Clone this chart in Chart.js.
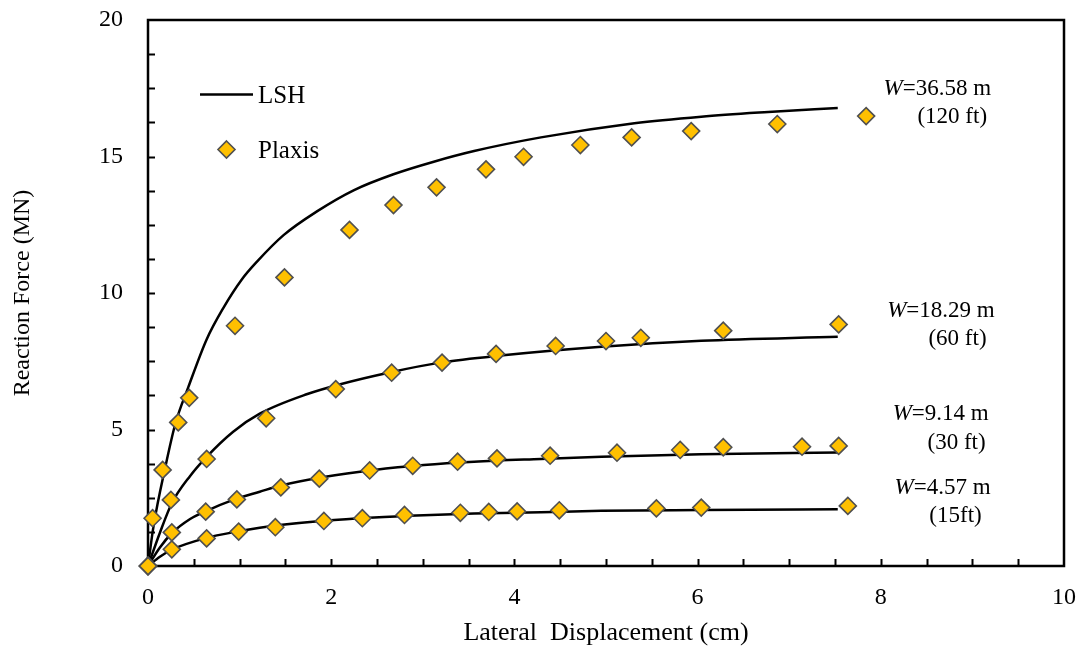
<!DOCTYPE html>
<html>
<head>
<meta charset="utf-8">
<script src="https://cdn.jsdelivr.net/npm/chart.js@4/dist/chart.umd.min.js"></script>
<style>
  html, body { margin: 0; padding: 0; background: #fff; }
  #wrap { width: 1083px; height: 653px; }
</style>
</head>
<body>
<div id="wrap"><canvas id="chart" width="1083" height="653"></canvas></div>
<script>
// Plaxis results (diamonds), x = lateral displacement (cm), y = reaction force (MN)
const plaxis36X = [0, 0.05, 0.16, 0.33, 0.45, 0.95, 1.49, 2.20, 2.68, 3.15, 3.69, 4.10, 4.72, 5.28, 5.93, 6.87, 7.84];
const plaxis36Y = [0, 1.75, 3.52, 5.26, 6.16, 8.80, 10.57, 12.31, 13.22, 13.87, 14.53, 14.99, 15.42, 15.70, 15.93, 16.19, 16.48];
const plaxis18X = [0, 0.25, 0.64, 1.29, 2.05, 2.66, 3.21, 3.80, 4.45, 5.00, 5.38, 6.28, 7.54];
const plaxis18Y = [0, 2.42, 3.92, 5.41, 6.48, 7.08, 7.45, 7.77, 8.06, 8.24, 8.36, 8.62, 8.85];
const plaxis9X = [0, 0.26, 0.63, 0.97, 1.45, 1.87, 2.42, 2.89, 3.38, 3.81, 4.39, 5.12, 5.81, 6.28, 7.14, 7.54];
const plaxis9Y = [0, 1.23, 1.99, 2.44, 2.88, 3.20, 3.50, 3.67, 3.82, 3.94, 4.04, 4.15, 4.25, 4.35, 4.37, 4.40];
const plaxis4X = [0, 0.26, 0.64, 0.99, 1.39, 1.92, 2.34, 2.80, 3.41, 3.72, 4.03, 4.49, 5.55, 6.04, 7.64];
const plaxis4Y = [0, 0.61, 1.01, 1.26, 1.42, 1.65, 1.75, 1.87, 1.95, 1.98, 2.00, 2.04, 2.11, 2.14, 2.20];

// LSH curves
const lsh36X = [0, 0.06, 0.19, 0.30, 0.44, 0.64, 0.82, 1.02, 1.19, 1.48, 1.84, 2.25, 2.68, 3.12, 3.56, 4.29, 5.31, 6.04, 6.77, 7.53];
const lsh36Y = [0, 1.45, 3.64, 5.23, 6.55, 8.30, 9.44, 10.48, 11.15, 12.12, 12.98, 13.77, 14.35, 14.81, 15.20, 15.70, 16.22, 16.46, 16.63, 16.78];
const lsh18X = [0, 0.13, 0.26, 0.46, 0.64, 0.93, 1.22, 1.74, 2.10, 2.65, 3.19, 3.85, 4.95, 6.04, 7.53];
const lsh18Y = [0, 1.22, 2.30, 3.30, 4.00, 4.92, 5.58, 6.30, 6.66, 7.10, 7.45, 7.71, 8.03, 8.25, 8.40];
const lsh9X = [0, 0.13, 0.26, 0.46, 0.64, 0.93, 1.22, 1.44, 1.92, 2.47, 3.01, 3.56, 4.29, 4.95, 6.04, 7.53];
const lsh9Y = [0, 0.68, 1.20, 1.72, 2.02, 2.42, 2.72, 2.94, 3.26, 3.52, 3.70, 3.82, 3.92, 4.00, 4.09, 4.16];
const lsh4X = [0, 0.13, 0.26, 0.64, 0.97, 1.22, 1.44, 1.92, 2.47, 3.01, 3.56, 4.29, 4.95, 6.04, 7.53];
const lsh4Y = [0, 0.34, 0.60, 1.03, 1.26, 1.40, 1.50, 1.66, 1.78, 1.86, 1.92, 1.97, 2.02, 2.05, 2.08];

// curve labels
const widthLabels = ['36.58 m', '18.29 m', '9.14 m', '4.57 m'];
const feetLabels = ['(120 ft)', '(60 ft)', '(30 ft)', '(15ft)'];

const FONT = "'Liberation Serif', 'Times New Roman', serif";
const YELLOW = '#FFC000';
const EDGE = '#505050';

function pts(xs, ys) {
    return xs.map((x, i) => ({ x: x, y: ys[i] }));
}

function lineSet(xs, ys) {
    return {
        label: 'LSH',
        data: pts(xs, ys),
        showLine: true,
        borderColor: '#000',
        borderWidth: 2.5,
        pointRadius: 0,
        cubicInterpolationMode: 'monotone',
        clip: false,
        order: 2
    };
}

function markerSet(xs, ys) {
    return {
        label: 'Plaxis',
        data: pts(xs, ys),
        showLine: false,
        pointStyle: 'rectRot',
        pointRadius: 8.5,
        backgroundColor: YELLOW,
        borderColor: EDGE,
        borderWidth: 1.6,
        clip: false,
        order: 1
    };
}

// label anchors in data units (left edge / middle of text)
const labelPos = [
    { x1: 8.03, y1: 17.47, x2: 8.40, y2: 16.46 },
    { x1: 8.07, y1: 9.35, x2: 8.52, y2: 8.30 },
    { x1: 8.13, y1: 5.56, x2: 8.51, y2: 4.52 },
    { x1: 8.15, y1: 2.87, x2: 8.53, y2: 1.83 }
];

const framePlugin = {
    id: 'frame',
    beforeDatasetsDraw(chart) {
        const { ctx, chartArea: a, scales } = chart;
        ctx.save();
        ctx.strokeStyle = '#000';
        ctx.lineWidth = 2.5;
        ctx.strokeRect(a.left, a.top, a.right - a.left, a.bottom - a.top);
        // inside minor ticks
        ctx.lineWidth = 2;
        ctx.beginPath();
        for (let v = 0.5; v < 10; v += 0.5) {
            const px = Math.round(scales.x.getPixelForValue(v)) + 0.5;
            ctx.moveTo(px, a.bottom);
            ctx.lineTo(px, a.bottom - 7);
        }
        for (let v = 1.25; v < 20; v += 1.25) {
            const py = Math.round(scales.y.getPixelForValue(v)) + 0.5;
            ctx.moveTo(a.left, py);
            ctx.lineTo(a.left + 7, py);
        }
        ctx.stroke();
        ctx.restore();
    },
    afterDraw(chart) {
        const { ctx, scales } = chart;
        ctx.save();
        ctx.fillStyle = '#000';
        ctx.textBaseline = 'middle';
        ctx.textAlign = 'left';

        // legend
        ctx.strokeStyle = '#000';
        ctx.lineWidth = 2.5;
        ctx.beginPath();
        ctx.moveTo(200, 94.5);
        ctx.lineTo(253, 94.5);
        ctx.stroke();
        ctx.font = '25px ' + FONT;
        ctx.fillText('LSH', 258, 96);
        ctx.beginPath();
        ctx.moveTo(226.5, 141);
        ctx.lineTo(235, 149.5);
        ctx.lineTo(226.5, 158);
        ctx.lineTo(218, 149.5);
        ctx.closePath();
        ctx.fillStyle = YELLOW;
        ctx.fill();
        ctx.strokeStyle = EDGE;
        ctx.lineWidth = 1.6;
        ctx.stroke();
        ctx.fillStyle = '#000';
        ctx.fillText('Plaxis', 258, 151);

        // curve labels
        const fs = 23;
        widthLabels.forEach((w, i) => {
            const p = labelPos[i];
            let x = scales.x.getPixelForValue(p.x1);
            const y = scales.y.getPixelForValue(p.y1);
            ctx.font = 'italic ' + fs + 'px ' + FONT;
            ctx.fillText('W', x, y);
            x += ctx.measureText('W').width;
            ctx.font = fs + 'px ' + FONT;
            ctx.fillText('=' + w, x, y);
            ctx.fillText(feetLabels[i], scales.x.getPixelForValue(p.x2), scales.y.getPixelForValue(p.y2));
        });
        ctx.restore();
    }
};

new Chart(document.getElementById('chart'), {
    type: 'scatter',
    data: {
        datasets: [
            lineSet(lsh36X, lsh36Y),
            lineSet(lsh18X, lsh18Y),
            lineSet(lsh9X, lsh9Y),
            lineSet(lsh4X, lsh4Y),
            markerSet(plaxis36X, plaxis36Y),
            markerSet(plaxis18X, plaxis18Y),
            markerSet(plaxis9X, plaxis9Y),
            markerSet(plaxis4X, plaxis4Y)
        ]
    },
    options: {
        responsive: false,
        animation: false,
        events: [],
        layout: { padding: { top: 20, right: 19, left: 0, bottom: 0 } },
        plugins: { legend: { display: false }, tooltip: { enabled: false } },
        scales: {
            x: {
                type: 'linear',
                min: 0, max: 10,
                afterFit: s => { s.height = 87; },
                grid: { display: true, drawOnChartArea: false, drawTicks: true, tickLength: 17, tickColor: 'rgba(0,0,0,0)' },
                border: { display: false },
                ticks: { stepSize: 2, padding: 0, color: '#000', font: { family: FONT, size: 24 } },
                title: {
                    display: true, text: 'Lateral  Displacement (cm)', color: '#000',
                    font: { family: FONT, size: 26 }, padding: { top: 0, bottom: 4 }
                }
            },
            y: {
                type: 'linear',
                min: 0, max: 20,
                afterFit: s => { s.width = 148; },
                grid: { display: true, drawOnChartArea: false, drawTicks: true, tickLength: 25, tickColor: 'rgba(0,0,0,0)' },
                border: { display: false },
                ticks: { stepSize: 5, padding: 0, color: '#000', font: { family: FONT, size: 24 } },
                title: {
                    display: true, text: 'Reaction Force (MN)', color: '#000',
                    font: { family: FONT, size: 24 }, padding: { top: 8, bottom: 0 }
                }
            }
        }
    },
    plugins: [framePlugin]
});
</script>
</body>
</html>
